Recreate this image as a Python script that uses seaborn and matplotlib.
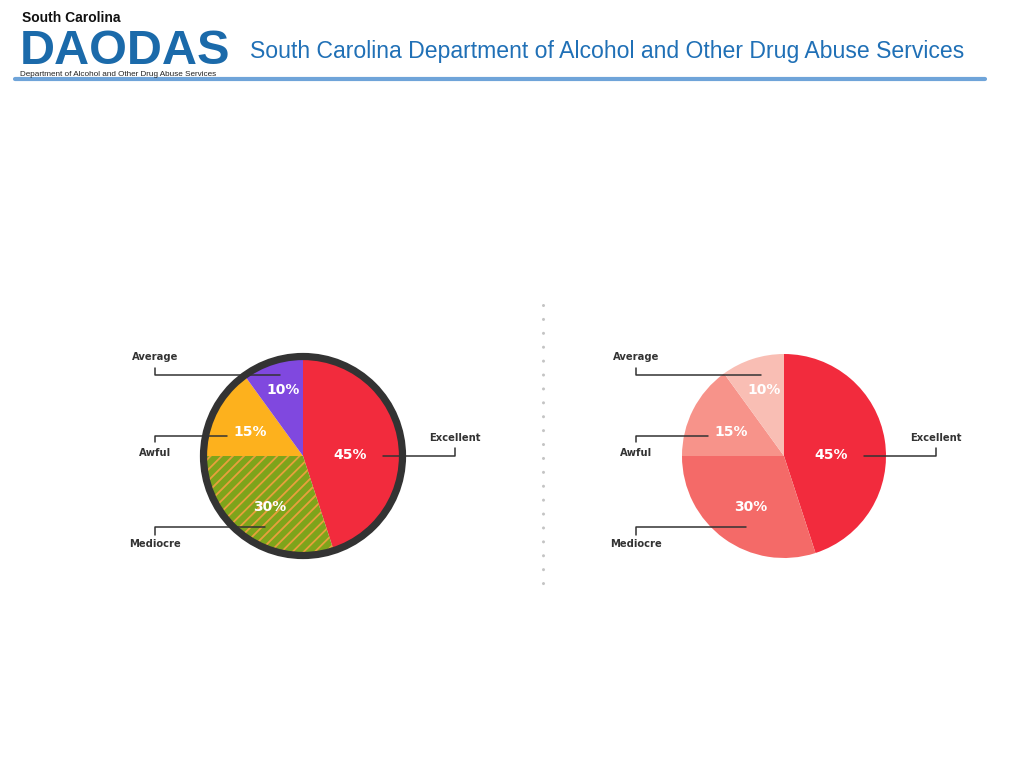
import matplotlib
matplotlib.use("Agg")
import matplotlib.pyplot as plt
from matplotlib.lines import Line2D
from matplotlib.patches import Circle
import seaborn as sns

# chart data
categories = ["Excellent", "Mediocre", "Awful", "Average"]
shares = [45, 30, 15, 10]
left_colors = ["#F22B3D", "#7EA41B", "#FDB11D", "#8048DF"]
right_colors = ["#F22B3D", "#F46A68", "#F7938A", "#F9BEB4"]
header_title = "South Carolina Department of Alcohol and Other Drug Abuse Services"

sns.set_style("white")
plt.rcParams["font.family"] = ["DejaVu Sans"]

W, H = 1024, 768
fig = plt.figure(figsize=(W / 100, H / 100), dpi=100)
fig.patch.set_facecolor("white")


def px(x, y):
    return x / W, 1 - y / H


# percent label offsets and leader lines (pie units, 1 = 100 px)
pct_pos = [(0.47, 0.01), (-0.33, -0.51), (-0.53, 0.24), (-0.20, 0.66)]
leaders = {
    "Excellent": ([0.80, 1.52, 1.52], [0.0, 0.0, 0.08], (1.52, 0.18)),
    "Mediocre": ([-0.38, -1.48, -1.48], [-0.71, -0.71, -0.79], (-1.48, -0.88)),
    "Awful": ([-0.76, -1.48, -1.48], [0.20, 0.20, 0.14], (-1.48, 0.03)),
    "Average": ([-0.23, -1.48, -1.48], [0.81, 0.81, 0.88], (-1.48, 0.99)),
}


def draw_pie(cx, cy, colors, radius, ring):
    ax = fig.add_axes([(cx - 200) / W, (H - cy - 200) / H, 400 / W, 400 / H])
    wedges, _ = ax.pie(shares, colors=colors, startangle=90, counterclock=False,
                       radius=radius, wedgeprops=dict(linewidth=0))
    if ring:
        wedges[1].set_hatch("///")
        wedges[1].set_edgecolor("#E9A03C")
        wedges[1].set_linewidth(0)
        ax.add_patch(Circle((0, 0), 0.995, fill=False, lw=5.2, color="#333333", zorder=5))
    for val, (tx, ty) in zip(shares, pct_pos):
        ax.text(tx, ty, f"{val}%", color="white", fontsize=10, fontweight="bold",
                ha="center", va="center", zorder=6)
    for name in categories:
        xs, ys, (lx, ly) = leaders[name]
        ax.plot(xs, ys, color="#333333", lw=1.1, zorder=6)
        ax.text(lx, ly, name, color="#333333", fontsize=7.2, fontweight="bold",
                ha="center", va="center")
    ax.set_xlim(-2, 2)
    ax.set_ylim(-2, 2)
    ax.axis("off")
    return ax


plt.rcParams["hatch.linewidth"] = 1.3
draw_pie(303, 456, left_colors, 0.97, True)
draw_pie(784, 456, right_colors, 1.02, False)

# dotted divider
x0, _ = px(543, 0)
fig.add_artist(Line2D([x0, x0], [px(0, 305)[1], px(0, 596)[1]], color="#C4C4C4",
                      lw=2.2, dashes=(0.01, 4.54), dash_capstyle="round"))

# header
lib = ["Liberation Sans", "DejaVu Sans"]
fig.text(*px(22, 22), "South Carolina", fontsize=10, fontweight="bold", color="#111111",
         family=lib, va="baseline", ha="left")
fig.text(*px(20, 64), "DAODAS", fontsize=35, fontweight="bold", color="#1B6AAA",
         family=lib, va="baseline", ha="left")
fig.text(*px(20, 76), "Department of Alcohol and Other Drug Abuse Services", fontsize=5.9,
         color="#222222", family=lib, va="baseline", ha="left")
fig.text(*px(250, 58), header_title, fontsize=16.6, color="#2070B6",
         family=lib, va="baseline", ha="left")
fig.add_artist(Line2D([px(15, 0)[0], px(985, 0)[0]], [px(0, 78.5)[1]] * 2,
                      color="#6FA4D9", lw=3))

fig.savefig("out.png", dpi=100)
